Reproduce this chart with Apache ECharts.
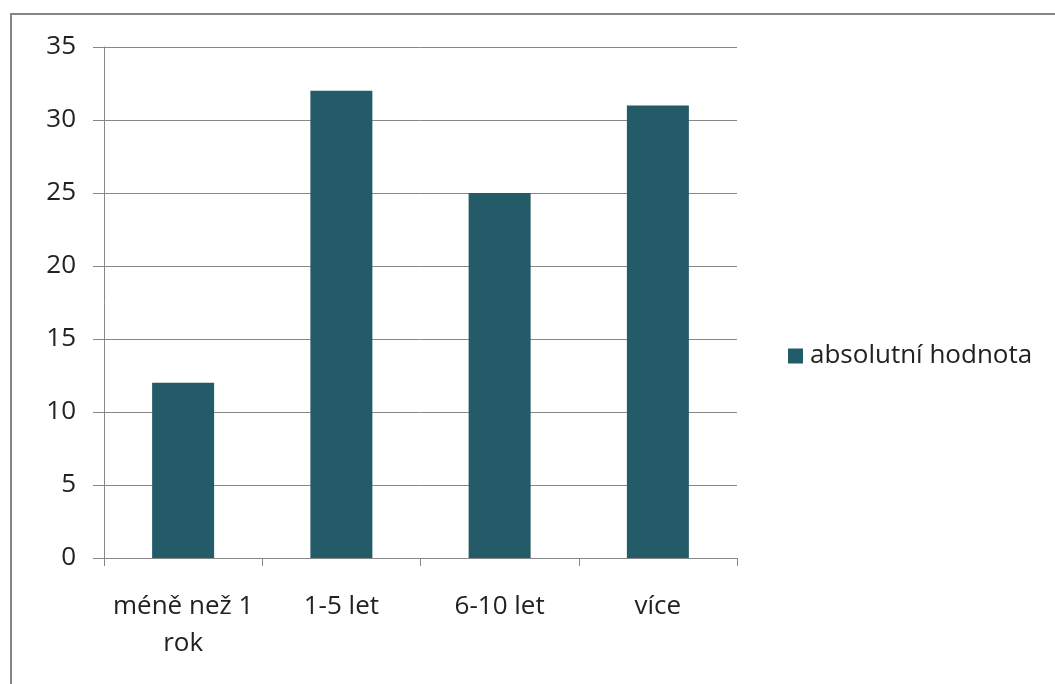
<!DOCTYPE html>
<html><head><meta charset="utf-8">
<script src="https://cdn.jsdelivr.net/npm/echarts@6/dist/echarts.min.js"></script>
<style>html,body{margin:0;padding:0;background:#fff}#c{width:1055px;height:684px}</style>
</head><body><div id="c"></div>
<script>
const categories = ['méně než 1 rok', '1-5 let', '6-10 let', 'více'];
const categoryLabels = ['méně než 1\nrok', '1-5 let', '6-10 let', 'více'];
const values = [12, 32, 25, 31];
const seriesName = 'absolutní hodnota';
const yTicks = { min: 0, max: 35, interval: 5 };

const chart = echarts.init(document.getElementById('c'));
const font = '"Open Sans", "Noto Sans", sans-serif';
chart.setOption({
  animation: false,
  graphic: [{ type: 'rect', shape: { x: 11, y: 14, width: 1200, height: 800 }, style: { fill: 'none', stroke: '#868686', lineWidth: 2 }, silent: true }],
  grid: { left: 104, right: 318, top: 47, bottom: 126 },
  legend: {
    left: 783, top: 338, orient: 'vertical',
    itemWidth: 15, itemHeight: 15, itemGap: 10,
    icon: 'rect',
    textStyle: { fontFamily: font, fontSize: 26, color: '#222', padding: [0, 0, 0, 2] },
    data: [seriesName]
  },
  xAxis: {
    type: 'category', data: categories,
    axisLine: { lineStyle: { color: '#888', width: 1 } },
    axisTick: { show: true, length: 8, lineStyle: { color: '#888' } },
    axisLabel: { fontFamily: font, fontSize: 26, color: '#222', margin: 30, lineHeight: 37, interval: 0,
      formatter: (v, i) => categoryLabels[i] }
  },
  yAxis: {
    type: 'value', min: yTicks.min, max: yTicks.max, interval: yTicks.interval,
    axisLine: { show: true, lineStyle: { color: '#888', width: 1 } },
    axisTick: { show: true, length: 11, lineStyle: { color: '#888' } },
    splitLine: { lineStyle: { color: '#888', width: 1 } },
    axisLabel: { fontFamily: font, fontSize: 26, color: '#222', margin: 28 }
  },
  series: [{
    name: seriesName, type: 'bar', data: values, barWidth: 62,
    itemStyle: { color: '#235B68' }
  }]
});
</script></body></html>
